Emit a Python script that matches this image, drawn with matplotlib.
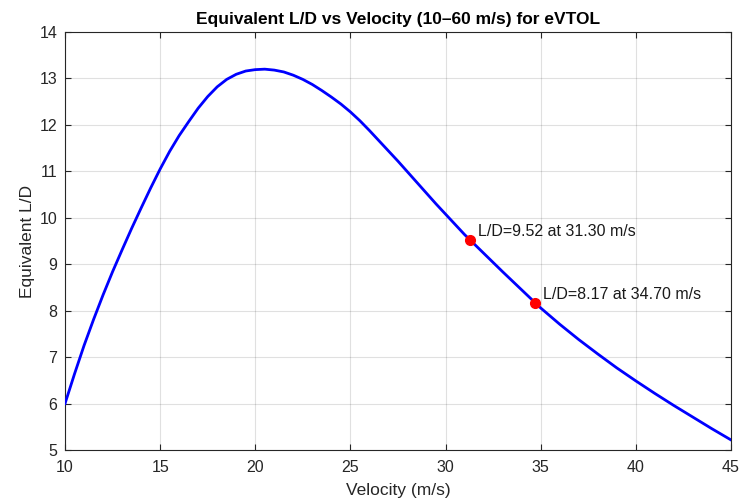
import numpy as np
import matplotlib
matplotlib.use("Agg")
import matplotlib.pyplot as plt

plt.rcParams['font.family'] = ['Liberation Sans', 'DejaVu Sans']

# values
velocity = [10, 10.5, 11, 11.5, 12, 12.5, 13, 13.5, 14, 14.5, 15, 15.5, 16,
            16.5, 17, 17.5, 18, 18.5, 19, 19.5, 20, 20.5, 21, 21.5, 22, 22.5,
            23, 23.5, 24, 24.5, 25, 25.5, 26, 26.5, 27, 27.5, 28, 28.5, 29,
            29.5, 30, 31, 32, 33, 34, 35, 36, 37, 38, 39, 40, 41, 42, 43,
            44, 45]
ld_ratio = [6.00, 6.64, 7.25, 7.81, 8.34, 8.84, 9.31, 9.77, 10.21, 10.64,
            11.05, 11.43, 11.77, 12.07, 12.36, 12.61, 12.82, 12.98, 13.09,
            13.16, 13.19, 13.20, 13.18, 13.14, 13.07, 12.98, 12.87, 12.74,
            12.60, 12.45, 12.28, 12.09, 11.88, 11.66, 11.44, 11.22, 10.99,
            10.76, 10.53, 10.30, 10.08, 9.64, 9.24, 8.84, 8.45, 8.06, 7.71,
            7.38, 7.07, 6.77, 6.49, 6.22, 5.96, 5.71, 5.46, 5.22]

mark_v = [31.30, 34.70]
mark_ld = [9.52, 8.17]

axis_col = '#262626'

fig = plt.figure(figsize=(7.49, 5.04), dpi=100)
ax = fig.add_axes([0.0868, 0.107, 0.889, 0.8295])

ax.plot(velocity, ld_ratio, color='#0000ff', lw=2.0, zorder=3)
ax.plot(mark_v, mark_ld, 'o', color='#ff0000', ms=7, mec='#ff0000', zorder=4)
for v, ld in zip(mark_v, mark_ld):
    ax.annotate(f"L/D={ld:.2f} at {v:.2f} m/s", (v, ld), xytext=(5.8, 6),
                textcoords='offset points', ha='left', va='center',
                fontsize=11.5, color='#1a1a1a')

ax.set_xlim(10, 45)
ax.set_ylim(5, 14)
ax.set_xticks(np.arange(10, 46, 5))
ax.set_yticks(np.arange(5, 15, 1))
ax.grid(True, color='#000000', alpha=0.12, lw=0.8)
ax.set_axisbelow(True)

ax.tick_params(direction='in', top=True, right=True, length=4,
               colors=axis_col, labelsize=11.5, labelcolor=axis_col)
ax.tick_params(axis='x', pad=7.5)
ax.tick_params(axis='y', pad=5.5)
for s in ax.spines.values():
    s.set_color(axis_col)
    s.set_linewidth(0.8)

ax.set_xlabel('Velocity (m/s)', fontsize=12.5, color=axis_col, labelpad=5.5)
ax.set_ylabel('Equivalent L/D', fontsize=12.5, color=axis_col, labelpad=3.5)
ax.set_title('Equivalent L/D vs Velocity (10\u201360 m/s) for eVTOL',
             fontsize=12.5, fontweight='bold', color='#000000', pad=6)

fig.savefig('out.png', dpi=100)
